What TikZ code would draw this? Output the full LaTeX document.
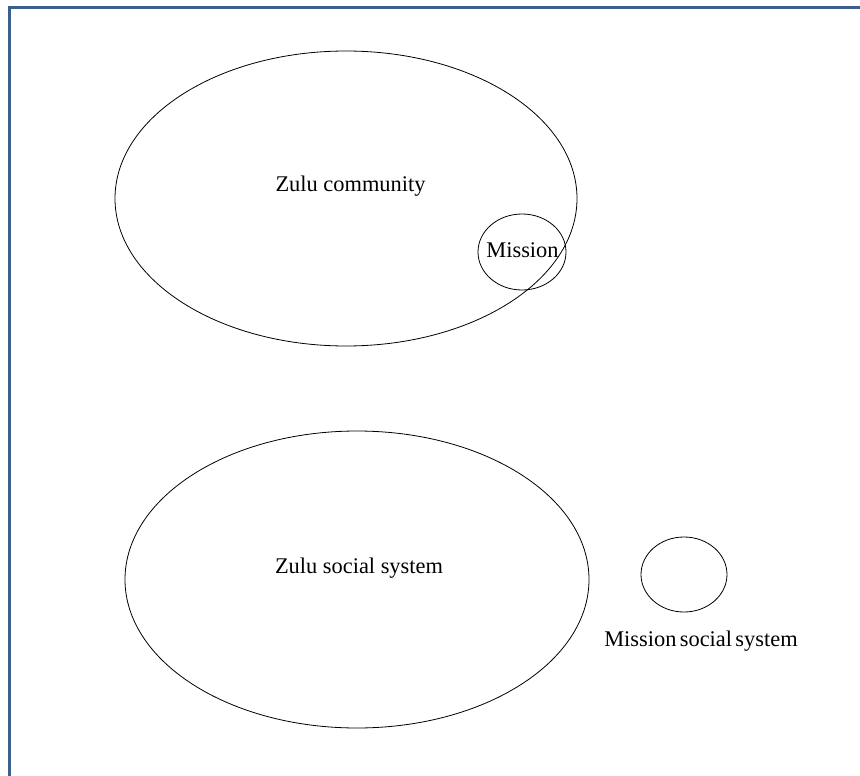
\documentclass[tikz,border=0pt]{standalone}
\usepackage{fontspec}
\setmainfont{Liberation Serif}
\usetikzlibrary{shapes.geometric}
\definecolor{frameblue}{HTML}{3C5F8E}

\begin{document}
\begin{tikzpicture}[x=1pt,y=-1pt,
  blob/.style={ellipse, draw, line width=0.8pt, inner sep=0pt},
  lbl/.style={font=\fontsize{22.4}{26}\selectfont, inner sep=0pt}]
\useasboundingbox (0,0) rectangle (860,776);
%%%FRAME
\draw[frameblue, line width=3pt] (9.5,776) -- (9.5,7.5) -- (860,7.5);
%%%COMMUNITY
\node[blob, minimum width=462pt, minimum height=295pt] (community) at (346,198.5) {};
\node[blob, minimum width=88pt, minimum height=76pt] (mission) at (522,252) {};
\node[lbl] (communitytext) at (350.5,186) {Zulu community};
\node[lbl] (missiontext) at (522.5,250) {Mission};
%%%SOCIAL SYSTEMS
\node[blob, minimum width=464pt, minimum height=297pt] (zulusys) at (357,579.5) {};
\node[blob, minimum width=86pt, minimum height=75pt] (missionsys) at (684,574.5) {};
\node[lbl] (zulusystext) at (359,568) {Zulu social system};
\node[lbl] (missionsystext) at (701,641) {Mission\hspace{-0.1em} social\hspace{-0.1em} system};
\end{tikzpicture}
\end{document}
